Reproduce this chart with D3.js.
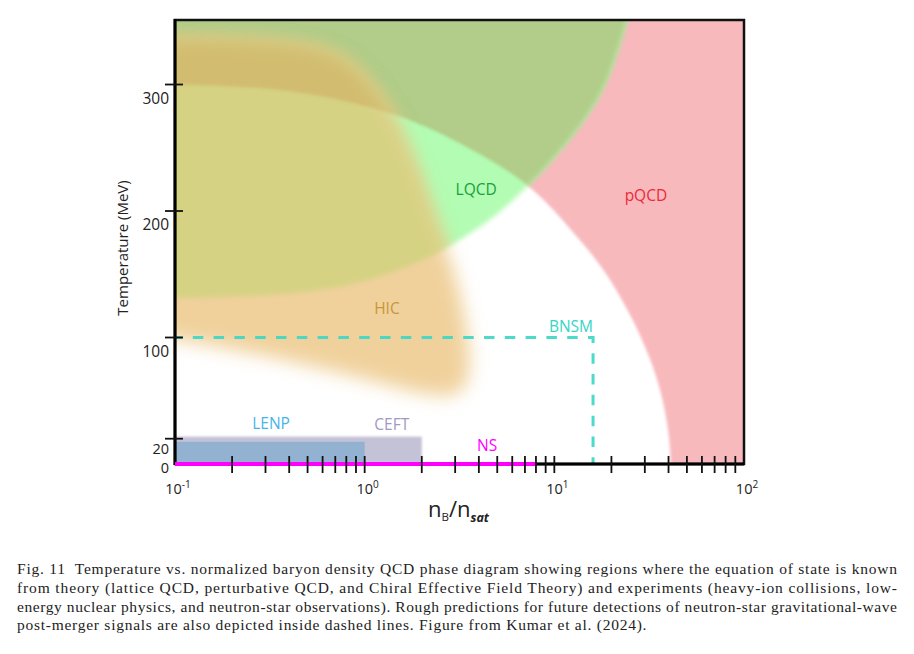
<!DOCTYPE html>
<html>
<head>
<meta charset="utf-8">
<script src="https://cdn.jsdelivr.net/npm/d3@7"></script>
<style>
  body { margin: 0; background: #fff; }
  svg { display: block; }
</style>
</head>
<body>
<svg id="chart" width="914" height="654"></svg>
<script>
// ---- data (n_B/n_sat , T in MeV) ----
var nDomain = [0.1, 100];
var tDomain = [0, 351];

// inner edge of the pQCD region, from the T axis down to the density axis
var pqcdEdge = [[0.1, 300], [0.317, 298], [0.714, 289], [1.59, 276], [3.59, 250], [7.45, 222],
                [12.1, 186], [18.1, 156], [25.1, 119], [31.9, 85], [37.4, 53], [40.7, 19], [41, 0]];
// LQCD region: right edge from the top down to the tip, then the lower edge back to the T axis
var lqcdEdge = [[24.2, 351], [19.6, 306], [15.8, 280], [11.7, 254], [8.1, 227], [7.45, 222]];
var lqcdLower = [[7.45, 222], [5.18, 198], [2.93, 173], [1.59, 153], [0.714, 138], [0.317, 133], [0.1, 131]];
// HIC region outline (clockwise from the top left)
var hicEdge = [[0.1, 336], [0.456, 333], [0.78, 322], [1.2, 292], [1.75, 248], [2.3, 193], [2.9, 160],
               [3.45, 114], [3.75, 60], [2.66, 50], [1.21, 64], [0.456, 80], [0.1, 100]];

var bnsm = {nMax: 16, tMax: 100};
var ceft = {nMax: 2, tMax: 21.6};
var lenp = {nMax: 1, tMax: 17.6};
var nsLine = {nMax: 8};

var tTicks = [20, 100, 200, 300];
var tLabels = [0, 20, 100, 200, 300];
var nExponents = [-1, 0, 1, 2];

var regionLabels = [
  {text: "LQCD", n: 3.87, t: 213, color: "#17a03c", anchor: "middle"},
  {text: "pQCD", n: 30.4, t: 208, color: "#ea2a3a", anchor: "middle"},
  {text: "HIC", n: 1.31, t: 118.6, color: "#c8963a", anchor: "middle"},
  {text: "BNSM", n: 16, t: 104.3, color: "#35d6c6", anchor: "end"},
  {text: "LENP", n: 0.321, t: 28, color: "#47b5e9", anchor: "middle"},
  {text: "CEFT", n: 1.39, t: 26.5, color: "#9d9ac4", anchor: "middle"},
  {text: "NS", n: 4.42, t: 10.5, color: "#ff00ff", anchor: "middle"}
];

var captionLines = [
  "Fig. 11  Temperature vs. normalized baryon density QCD phase diagram showing regions where the equation of state is known",
  "from theory (lattice QCD, perturbative QCD, and Chiral Effective Field Theory) and experiments (heavy-ion collisions, low-",
  "energy nuclear physics, and neutron-star observations). Rough predictions for future detections of neutron-star gravitational-wave",
  "post-merger signals are also depicted inside dashed lines. Figure from Kumar et al. (2024)."
];

// ---- scales ----
var x = d3.scaleLog().domain(nDomain).range([175, 744]);
var y = d3.scaleLinear().domain(tDomain).range([464, 20]);
var L = x.range()[0], R = x.range()[1], B = y.range()[0], T = y.range()[1];
var pad = 40;

var svg = d3.select("#chart");
var defs = svg.append("defs");

function blur(id, sd) {
  defs.append("filter").attr("id", id)
    .attr("filterUnits", "userSpaceOnUse")
    .attr("x", -100).attr("y", -100).attr("width", 1114).attr("height", 854)
    .append("feGaussianBlur").attr("stdDeviation", sd);
}
blur("blurP", 1.8);
blur("blurL", 2.4);
blur("blurH", 9);
blur("blurS", 0.8);

defs.append("clipPath").attr("id", "plotClip")
  .append("rect").attr("x", L).attr("y", T).attr("width", R - L).attr("height", B - T);

function px(d) { return [x(d[0]), y(d[1])]; }
var curve = d3.line().curve(d3.curveBasis);
function seg(pts) { return "L" + curve(pts).slice(1); }

// pQCD: everything outside the inner edge
var P = pqcdEdge.map(px);
var pqcdPath = "M" + (L - pad) + "," + (T - pad) + "H" + (R + pad) + "V" + (B + pad) +
  "H" + P[P.length - 1][0] + seg(P.slice().reverse()) + "L" + (L - pad) + "," + P[0][1] + "Z";

// LQCD
var Q1 = lqcdEdge.map(px), Q2 = lqcdLower.map(px);
var lqcdPath = "M" + (L - pad) + "," + (T - pad) + "H" + Q1[0][0] + seg(Q1) + seg(Q2) +
  "L" + (L - pad) + "," + Q2[Q2.length - 1][1] + "Z";

// HIC
var H = hicEdge.map(px);
H.unshift([L - pad, H[0][1]]);
H.push([L - pad, H[H.length - 1][1]]);
var hicPath = d3.line().curve(d3.curveBasisClosed)(H);

function mask(id, d, filt) {
  defs.append("mask").attr("id", id).attr("maskUnits", "userSpaceOnUse")
    .attr("x", -100).attr("y", -100).attr("width", 1114).attr("height", 854)
    .append("path").attr("d", d).attr("fill", "#fff").attr("filter", "url(#" + filt + ")");
}
mask("mP", pqcdPath, "blurP");
mask("mL", lqcdPath, "blurL");

var regions = svg.append("g").attr("clip-path", "url(#plotClip)");

regions.append("path").attr("d", pqcdPath).attr("fill", "#f8b9bd").attr("filter", "url(#blurP)");
regions.append("path").attr("d", lqcdPath).attr("fill", "#b3fcb3").attr("filter", "url(#blurL)");
regions.append("g").attr("mask", "url(#mP)")
  .append("path").attr("d", lqcdPath).attr("fill", "#b1cd89").attr("filter", "url(#blurL)");

regions.append("path").attr("d", hicPath).attr("fill", "#f0d19c").attr("filter", "url(#blurH)");
regions.append("g").attr("mask", "url(#mL)")
  .append("path").attr("d", hicPath).attr("fill", "#d5d283").attr("filter", "url(#blurH)");
regions.append("g").attr("mask", "url(#mL)")
  .append("g").attr("mask", "url(#mP)")
  .append("path").attr("d", hicPath).attr("fill", "#d2bc6f").attr("filter", "url(#blurH)");

// CEFT and LENP bands
regions.append("rect")
  .attr("x", L).attr("y", y(ceft.tMax)).attr("width", x(ceft.nMax) - L).attr("height", B - y(ceft.tMax))
  .attr("fill", "#c4c2d7").attr("filter", "url(#blurS)");
regions.append("rect")
  .attr("x", L).attr("y", y(lenp.tMax)).attr("width", x(lenp.nMax) - L).attr("height", B - y(lenp.tMax))
  .attr("fill", "#93b1d0");

// BNSM dashed box
svg.append("path")
  .attr("d", "M" + L + "," + y(bnsm.tMax) + "H" + x(bnsm.nMax) + "V" + B)
  .attr("fill", "none").attr("stroke", "#3dd8c6").attr("stroke-width", 3)
  .attr("stroke-dasharray", "10.5 10.3").attr("stroke-dashoffset", 3).attr("opacity", 0.92);

// frame
svg.append("rect").attr("x", L).attr("y", T).attr("width", R - L).attr("height", B - T)
  .attr("fill", "none").attr("stroke", "#111").attr("stroke-width", 2.5);
svg.append("line").attr("x1", L).attr("x2", L).attr("y1", T - 1).attr("y2", B + 1)
  .attr("stroke", "#000").attr("stroke-width", 3);
svg.append("line").attr("x1", L).attr("x2", R).attr("y1", B).attr("y2", B)
  .attr("stroke", "#000").attr("stroke-width", 3);

// NS line
svg.append("line").attr("x1", L).attr("x2", x(nsLine.nMax)).attr("y1", B).attr("y2", B)
  .attr("stroke", "#ff00ff").attr("stroke-width", 4);

// x ticks (cross the axis)
var xt = x.ticks().filter(function(v) { return v > nDomain[0] * 1.01 && v < nDomain[1] * 0.99; });
svg.append("g").selectAll("line").data(xt).join("line")
  .attr("x1", function(d) { return x(d); }).attr("x2", function(d) { return x(d); })
  .attr("y1", B - 8).attr("y2", B + 9)
  .attr("stroke", "#111").attr("stroke-width", 1.8);

// y ticks
svg.append("g").selectAll("line").data(tTicks).join("line")
  .attr("x1", L - 10).attr("x2", L + 8)
  .attr("y1", function(d) { return y(d); }).attr("y2", function(d) { return y(d); })
  .attr("stroke", "#111").attr("stroke-width", 1.8);

var font = "'Open Sans', 'Noto Sans', sans-serif";

// y tick labels sit just under their tick
svg.append("g").selectAll("text").data(tLabels).join("text")
  .attr("x", 169)
  .attr("y", function(d) { return y(d) + (d === 0 ? 9 : d === 20 ? 15.5 : 19); })
  .attr("text-anchor", "end")
  .attr("font-family", font)
  .attr("font-size", function(d) { return d < 100 ? 14.5 : 15.5; })
  .attr("fill", "#222")
  .text(function(d) { return d; });

// x tick labels 10^k
var xl = svg.append("g").selectAll("text").data(nExponents).join("text")
  .attr("x", function(d) { return x(Math.pow(10, d)) + 3; })
  .attr("y", 494)
  .attr("text-anchor", "middle")
  .attr("font-family", font).attr("font-size", 14.5).attr("fill", "#222");
xl.append("tspan").text("10");
xl.append("tspan").attr("font-size", 10).attr("dy", -6)
  .text(function(d) { return d < 0 ? "-" + (-d) : d; });

// axis titles
svg.append("text")
  .attr("transform", "translate(128,248) rotate(-90)")
  .attr("text-anchor", "middle")
  .attr("font-family", font).attr("font-size", 15).attr("fill", "#222")
  .text("Temperature (MeV)");

var xTitle = svg.append("text").attr("x", 428).attr("y", 517)
  .attr("font-family", font).attr("fill", "#222");
xTitle.append("tspan").attr("font-size", 22).text("n");
xTitle.append("tspan").attr("font-size", 11.5).attr("dy", 4).text("B");
xTitle.append("tspan").attr("font-size", 22).attr("dy", -4).text("/n");
xTitle.append("tspan").attr("font-size", 12.5).attr("dy", 5)
  .attr("font-style", "italic").attr("font-weight", "bold").text("sat");

// region labels
svg.append("g").selectAll("text").data(regionLabels).join("text")
  .attr("x", function(d) { return x(d.n); })
  .attr("y", function(d) { return y(d.t); })
  .attr("text-anchor", function(d) { return d.anchor; })
  .attr("font-family", font).attr("font-size", 15.5)
  .attr("fill", function(d) { return d.color; })
  .text(function(d) { return d.text; });

// caption, justified by spreading the letters; the last line keeps the mean spacing
var cap = svg.append("g")
  .attr("font-family", "'Liberation Serif', 'DejaVu Serif', serif")
  .attr("font-size", 15.5).attr("fill", "#222");
var capLeft = 17, capWidth = 880, spacings = [];
captionLines.forEach(function(line, i) {
  var t = cap.append("text").attr("x", capLeft).attr("y", 574 + i * 18.8)
    .attr("xml:space", "preserve").text(line);
  if (i < captionLines.length - 1) {
    var w = t.node().getComputedTextLength();
    var ls = (capWidth - w) / (line.length - 1);
    spacings.push(ls);
    t.attr("letter-spacing", ls);
  } else {
    t.attr("letter-spacing", d3.mean(spacings));
  }
});
</script>
</body>
</html>
